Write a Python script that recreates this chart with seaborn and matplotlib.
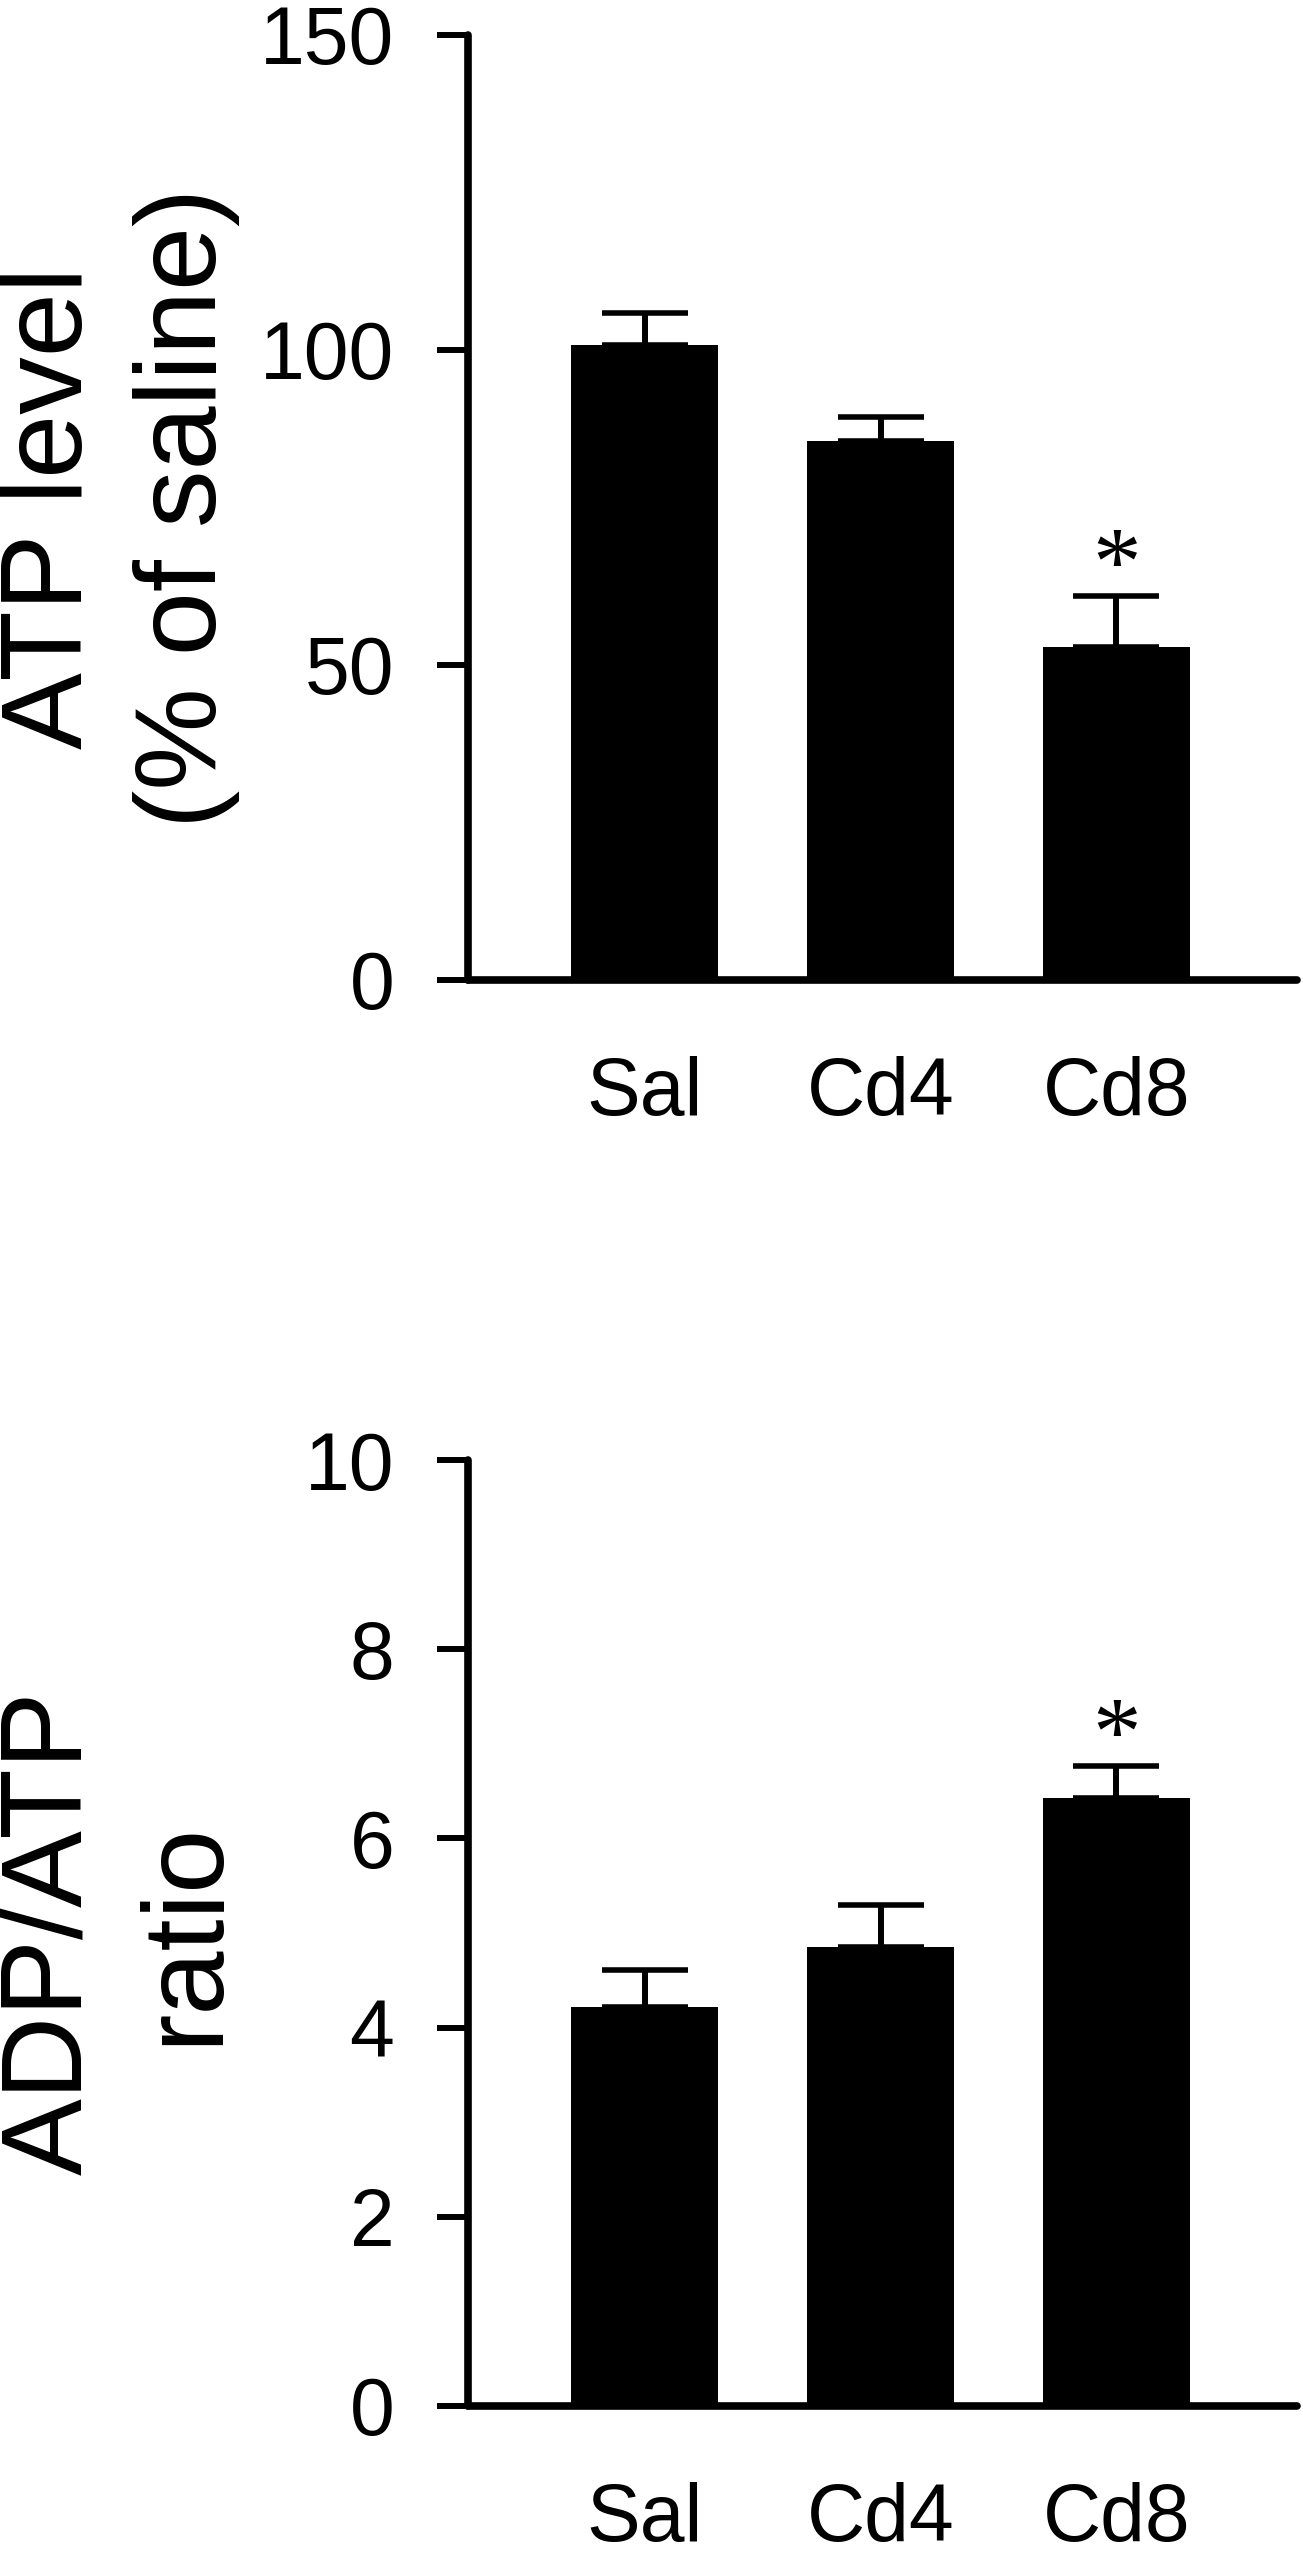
import numpy as np
import pandas as pd
import seaborn as sb
import matplotlib.pyplot as plt

groups = ["Sal", "Cd4", "Cd8"]

atp_mean = [100.8, 85.5, 52.9]
atp_sem = [5.1, 3.9, 8.1]

ratio_mean = [4.22, 4.85, 6.43]
ratio_sem = [0.39, 0.45, 0.34]

# significance markers (group index, y of star)
atp_star = [(2, 65.0)]
ratio_star = [(2, 7.03)]

sb.set_style("ticks")
plt.rcParams["font.family"] = ["Liberation Sans", "DejaVu Sans"]
for k in ["text.color", "axes.edgecolor", "axes.labelcolor", "xtick.color", "ytick.color"]:
    plt.rcParams[k] = "black"

fig = plt.figure(figsize=(13.03, 25.56), dpi=100)
ax1 = fig.add_axes([0.3592, 0.61659, 0.6362, 0.36972])
ax2 = fig.add_axes([0.3592, 0.05869, 0.6362, 0.37010])


def draw_panel(ax, mean, sem, stars, ylim, yticks, label):
    df = pd.DataFrame({"group": groups, "value": mean})
    sb.barplot(data=df, x="group", y="value", color="black", saturation=1,
               width=0.623, errorbar=None, ax=ax, zorder=2)
    for p in ax.patches:
        p.set_edgecolor("none")
    x = np.arange(len(groups))
    # upper error only; lower cap hides behind the bar
    ax.errorbar(x, mean, yerr=[np.zeros(len(sem)), sem], fmt="none",
                ecolor="black", elinewidth=4.3, capsize=31, capthick=4,
                zorder=1)
    for i, y in stars:
        ax.text(i, y, "*", family="Liberation Serif", fontsize=70,
                ha="center", va="center")
    ax.set_xlim(-0.748, 2.765)
    ax.set_ylim(*ylim)
    ax.set_yticks(yticks)
    sb.despine(ax=ax)
    for s in ["left", "bottom"]:
        ax.spines[s].set_linewidth(5.5)
        ax.spines[s].set_capstyle("round")
        ax.spines[s].set_zorder(3)
    ax.tick_params(axis="y", length=22, width=4.3, pad=31, labelsize=58)
    ax.tick_params(axis="x", length=0, pad=55, labelsize=58)
    ax.set_xlabel("")
    ax.set_ylabel(label, fontsize=83, linespacing=1.33)
    ax.yaxis.set_label_coords(-0.275, 0.5)


draw_panel(ax1, atp_mean, atp_sem, atp_star, (0, 150), [0, 50, 100, 150],
           "ATP level\n(% of saline)")
draw_panel(ax2, ratio_mean, ratio_sem, ratio_star, (0, 10), [0, 2, 4, 6, 8, 10],
           "ADP/ATP\nratio")

plt.savefig("out.png", dpi=100)
